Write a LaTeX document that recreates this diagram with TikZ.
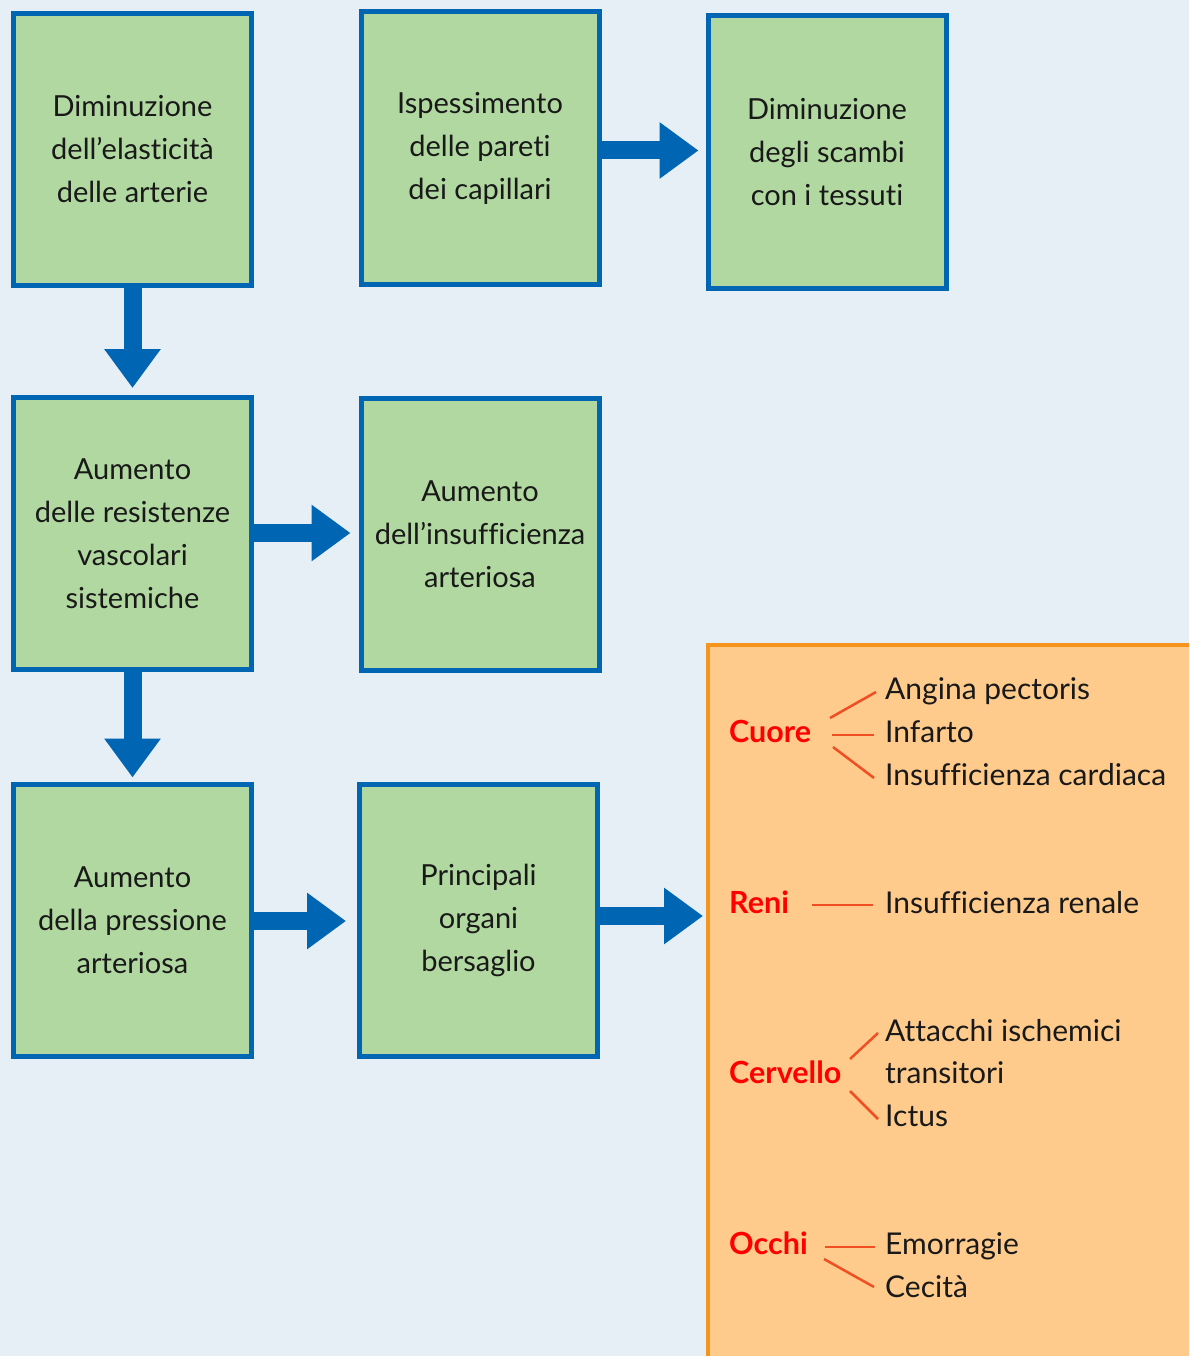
\documentclass[tikz,border=0pt]{standalone}
\usepackage{fontspec}
\setmainfont[Ligatures={NoCommon}]{Lato}
\usetikzlibrary{arrows.meta}
\definecolor{bgc}{HTML}{E6EEF6}
\definecolor{grn}{HTML}{B1D8A0}
\definecolor{blu}{HTML}{0066B3}
\definecolor{orf}{HTML}{FECB8C}
\definecolor{orb}{HTML}{F7941E}
\definecolor{rdt}{HTML}{FF0000}
\definecolor{rdl}{HTML}{F04E23}
\tikzset{
  gbox/.style={draw=blu, fill=grn, line width=5pt, minimum width=238pt, minimum height=272pt,
    align=center, font=\fontsize{29}{43}\selectfont, text=black!90},
  bigarrow/.style={draw=blu, line width=18pt, -{Triangle[width=54pt,length=39pt]}},
  organ/.style={anchor=mid west, yshift=-8pt, text=rdt, font=\fontsize{30.5}{43}\selectfont\bfseries, inner sep=0pt},
  effect/.style={anchor=mid west, yshift=-8pt, text=black!90, font=\fontsize{30}{43}\selectfont, inner sep=0pt},
  link/.style={draw=rdl, line width=2.5pt},
}
\begin{document}
\begin{tikzpicture}[x=1pt,y=-1pt]
\clip (0,0) rectangle (1189,1356);
\fill[bgc] (0,0) rectangle (1189,1356);
\node[gbox] (b1) at (132.5,149.5) {Diminuzione\\dell’elasticità\\delle arterie};
\node[gbox] (b2) at (480,148) {Ispessimento\\delle pareti\\dei capillari};
\node[gbox] (b3) at (827,152) {Diminuzione\\degli scambi\\con i tessuti};
\node[gbox] (b4) at (132.5,533.5) {Aumento\\delle resistenze\\vascolari\\sistemiche};
\node[gbox] (b5) at (480,534) {Aumento\\dell’insufficienza\\arteriosa};
\node[gbox] (b6) at (132.5,920) {Aumento\\della pressione\\arteriosa};
\node[gbox] (b7) at (478.5,920) {Principali\\organi\\bersaglio};
\node[draw=orb, fill=orf, line width=4pt, anchor=north west, minimum width=600pt, minimum height=800pt] (org) at (706,643) {};
\draw[bigarrow, shorten >=7pt] (b1.south) -- (b1.south |- b4.north);
\draw[bigarrow, shorten >=7pt] (b2.east |- 0,150.5) -- (b3.west |- 0,150.5);
\draw[bigarrow, shorten >=8pt] (b4.east |- 0,533) -- (b5.west |- 0,533);
\draw[bigarrow, shorten >=4pt] (b4.south) -- (b4.south |- b6.north);
\draw[bigarrow, shorten >=11pt] (b6.east |- 0,921) -- (b7.west |- 0,921);
\draw[bigarrow, shorten >=3pt, shorten <=-3pt] (b7.east |- 0,916) -- (org.west |- 0,916);
% Cuore
\node[organ] (cuore) at (729,732) {Cuore};
\node[effect] (e1) at (885,689) {Angina pectoris};
\node[effect] (e2) at (885,732) {Infarto};
\node[effect] (e3) at (885,775) {Insufficienza cardiaca};
\draw[link] (830,718) -- (876,692);
\draw[link] (832,735) -- (874,735);
\draw[link] (833,747) -- (874,778);
% Reni
\node[organ] (reni) at (729,903) {Reni};
\node[effect] (e4) at (885,903) {Insufficienza renale};
\draw[link] (812,905) -- (873,905);
% Cervello
\node[organ] (cerv) at (729,1073) {Cervello};
\node[effect] (e5) at (885,1031) {Attacchi ischemici};
\node[effect] (e6) at (885,1073) {transitori};
\node[effect] (e7) at (885,1116) {Ictus};
\draw[link] (850,1059) -- (878,1033);
\draw[link] (850,1091) -- (878,1119);
% Occhi
\node[organ] (occhi) at (729,1244) {Occhi};
\node[effect] (e8) at (885,1244) {Emorragie};
\node[effect] (e9) at (885,1287) {Cecità};
\draw[link] (825,1247) -- (875,1247);
\draw[link] (824,1259) -- (874,1287);
\end{tikzpicture}
\end{document}
